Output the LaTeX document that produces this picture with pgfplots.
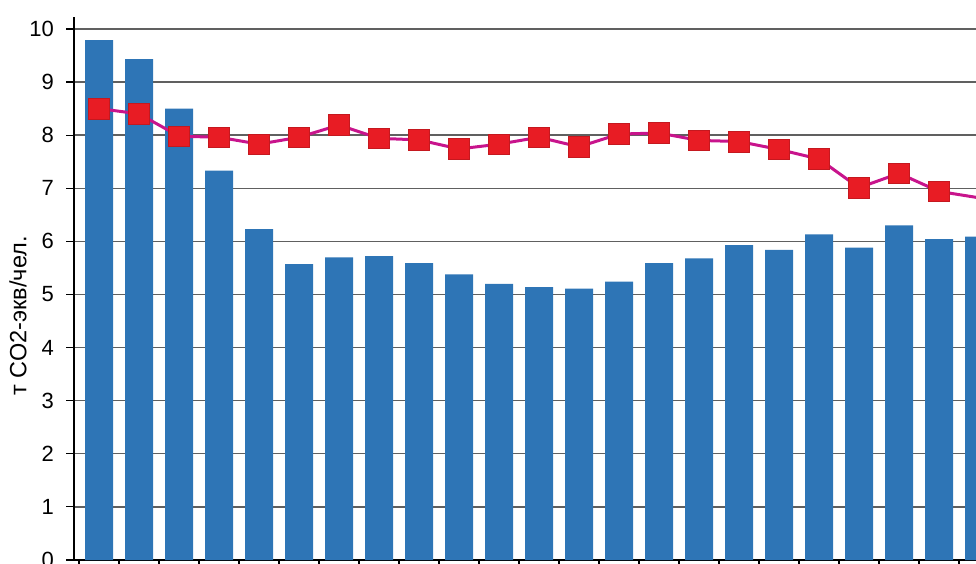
\documentclass[border=0pt]{standalone}
\usepackage{pgfplots}
\pgfplotsset{compat=1.18}
\usepackage{fontspec}
\setmainfont{Liberation Sans}
\definecolor{barblue}{RGB}{46,117,182}
\definecolor{linemag}{RGB}{200,20,140}
\definecolor{mkred}{RGB}{232,28,36}
\begin{document}
\begin{tikzpicture}
\useasboundingbox (0,0) rectangle (976pt,563pt);
\clip (0,0) rectangle (976pt,563pt);
\begin{axis}[
  at={(74pt,3pt)}, anchor=south west,
  width=902pt, height=543.3pt, scale only axis,
  xmin=-0.625, xmax=21.925,
  ymin=0, ymax=10.23,
  axis x line*=bottom, axis y line*=left,
  axis line style={-, black, line width=1.2pt},
  ytick={0,1,...,10},
  xtick={-0.5,0.5,...,21.5}, xticklabels={},
  tick align=outside,
  major tick length=8pt,
  tick style={black, line width=1.2pt},
  ymajorgrids,
  grid style={gray!75!black, line width=1.3pt},
  /pgf/number format/assume math mode=true,
  yticklabel style={font=\fontsize{22}{22}\selectfont, inner sep=0pt, xshift=-12pt},
  ylabel={т CO2-экв/чел.},
  ylabel style={font=\fontsize{23.5}{23.5}\selectfont, at={(axis description cs:-0.062,0.449)}, anchor=center},
]
\addplot[ybar, bar width=0.7, fill=barblue, draw=none] coordinates {
(0,9.79) (1,9.43) (2,8.50) (3,7.33) (4,6.23) (5,5.57) (6,5.70) (7,5.72)
(8,5.59) (9,5.38) (10,5.20) (11,5.14) (12,5.11) (13,5.24) (14,5.59) (15,5.68)
(16,5.93) (17,5.84) (18,6.13) (19,5.88) (20,6.30) (21,6.04) (22,6.09)
};
\addplot[linemag, line width=3pt, mark=square*, mark size=10.3pt,
  mark options={fill=mkred, draw=mkred!85!black, line width=0.6pt}] coordinates {
(0,8.50) (1,8.40) (2,7.98) (3,7.96) (4,7.83) (5,7.96) (6,8.19) (7,7.94)
(8,7.91) (9,7.74) (10,7.83) (11,7.96) (12,7.78) (13,8.02) (14,8.04) (15,7.90)
(16,7.88) (17,7.73) (18,7.55) (19,7.01) (20,7.28) (21,6.94) (22,6.82)
};
\end{axis}
\end{tikzpicture}
\end{document}
